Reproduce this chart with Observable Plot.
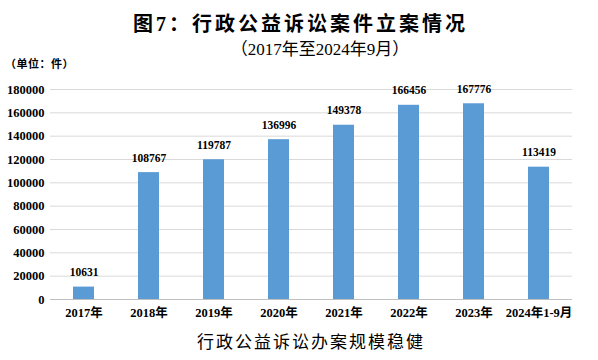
<!DOCTYPE html>
<html>
<head>
<meta charset="utf-8">
<script src="https://cdn.jsdelivr.net/npm/d3@7"></script>
<script src="https://cdn.jsdelivr.net/npm/@observablehq/plot@0.6"></script>
<style>
  html, body { margin: 0; padding: 0; background: #fff; }
  body { width: 598px; height: 360px; overflow: hidden; font-family: "Liberation Serif", "Noto Sans CJK SC", serif; color: #000; }
  .title { padding-top: 6px; height: 36px; line-height: 36px; text-align: center; font-size: 20px; font-weight: bold; letter-spacing: 3px; padding-left: 3px; }
  .subtitle { height: 16px; line-height: 16px; text-align: center; font-size: 17px; padding-left: 42px; }
  .unit { height: 12px; line-height: 12px; font-size: 11px; padding-left: 5px; font-weight: bold; letter-spacing: 0.5px; }
  .caption { height: 30px; line-height: 30px; text-align: center; font-size: 17px; letter-spacing: 2px; padding-left: 24px; font-family: "Noto Sans CJK SC", sans-serif; }
  svg { display: block; }
</style>
</head>
<body>
<div class="title">图7：行政公益诉讼案件立案情况</div>
<div class="subtitle">（2017年至2024年9月）</div>
<div class="unit">（单位：件）</div>
<div id="chart"></div>
<div class="caption">行政公益诉讼办案规模稳健</div>
<script>
const categories = ["2017年", "2018年", "2019年", "2020年", "2021年", "2022年", "2023年", "2024年1-9月"];
const values = [10631, 108767, 119787, 136996, 149378, 166456, 167776, 113419];
const yTicks = [0, 20000, 40000, 60000, 80000, 100000, 120000, 140000, 160000, 180000];

const data = categories.map((c, i) => ({category: c, value: values[i]}));

const chart = Plot.plot({
  width: 598,
  height: 256,
  marginTop: 19,
  marginBottom: 27,
  marginLeft: 50,
  marginRight: 26,
  style: {fontFamily: '"Liberation Serif", "Noto Sans CJK SC", serif', fontWeight: "bold", color: "#000", background: "#fff"},
  x: {domain: categories, paddingInner: 0.68, paddingOuter: 0.34, label: null},
  y: {domain: [0, 180000], label: null},
  marks: [
    Plot.gridY(yTicks.filter(d => d > 0), {stroke: "#d9d9d9", strokeOpacity: 1}),
    Plot.axisY(yTicks, {tickSize: 0, tickPadding: 6, fontSize: 12.5, fontWeight: "bold", tickFormat: d => String(d), label: null}),
    Plot.axisX({tickSize: 0, tickPadding: 9, fontSize: 12.5, fontWeight: "bold", label: null}),
    Plot.barY(data, {x: "category", y: "value", fill: "#5b9bd5"}),
    Plot.ruleY([0], {stroke: "#bfbfbf"}),
    Plot.text(data, {x: "category", y: "value", text: d => String(d.value), dy: -14.5, fontSize: 11.5, fontWeight: "bold", fill: "#000"})
  ]
});
document.getElementById("chart").appendChild(chart);
</script>
</body>
</html>
